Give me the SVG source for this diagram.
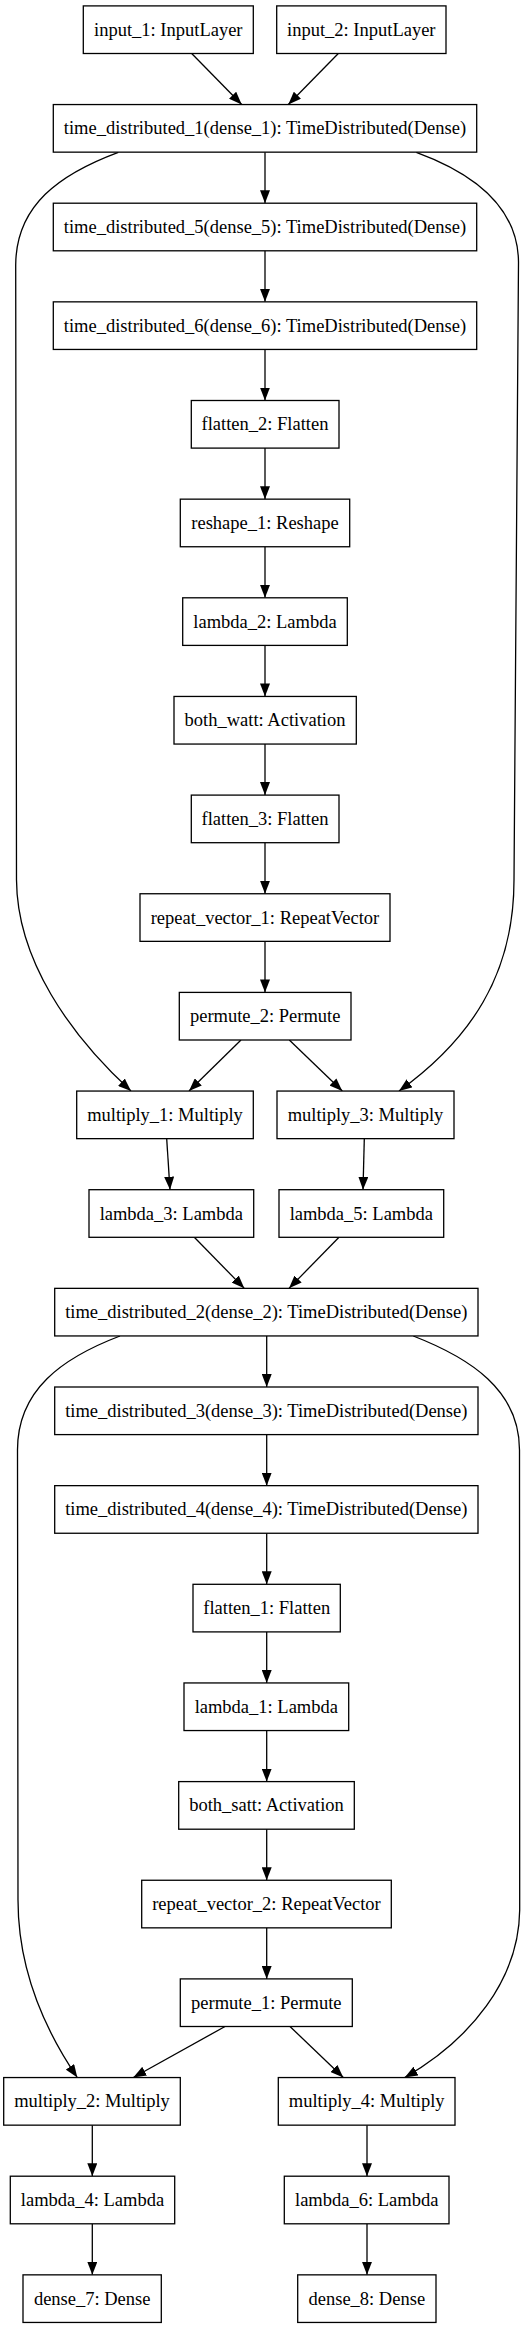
<svg xmlns="http://www.w3.org/2000/svg" width="528" height="2331" viewBox="0 0 528 2331">
<style>
rect{fill:#fff;stroke:#000;stroke-width:1.3}
text{font-family:"Liberation Serif","Times New Roman",serif;font-size:18.5px;text-anchor:middle;fill:#000}
.e path{fill:none;stroke:#000;stroke-width:1.3;marker-end:url(#ah)}
</style>
<defs>
<marker id="ah" viewBox="0 0 13 10" refX="13" refY="5" markerWidth="13" markerHeight="10" orient="auto" markerUnits="userSpaceOnUse"><path d="M0,0 L13,5 L0,10 z" fill="#000"/></marker>
</defs>
<rect x="0" y="0" width="528" height="2331" style="stroke:none"/>
<g class="e" id="edges">
<path d="M191.7,53.5 L241.7,104.5"/>
<path d="M338.3,53.5 L288.3,104.5"/>
<path d="M265,152.2 L265,203.2"/>
<path d="M265,250.8 L265,301.85"/>
<path d="M265,349.45 L265,400.5"/>
<path d="M265,448.1 L265,499.15"/>
<path d="M265,546.75 L265,597.8"/>
<path d="M265,645.4 L265,696.45"/>
<path d="M265,744.05 L265,795.1"/>
<path d="M265,842.7 L265,893.75"/>
<path d="M265,941.35 L265,992.4"/>
<path d="M241,1040 L189,1091"/>
<path d="M289.3,1040 L342.3,1091"/>
<path d="M118.3,152.3 C60,174 16,205 15.7,265 L16.5,880 C17,960 70,1035 131,1091"/>
<path d="M416.3,152.3 C470,172 518,205 518.5,262 L514,880 C514,975 470,1040 399,1091"/>
<path d="M166.7,1138.7 L170,1189.7"/>
<path d="M364.3,1138.7 L363,1189.7"/>
<path d="M194.3,1237.3 L244.3,1288.35"/>
<path d="M339,1237.3 L289,1288.35"/>
<path d="M266.7,1335.95 L266.7,1387"/>
<path d="M266.7,1434.6 L266.7,1485.65"/>
<path d="M266.7,1533.25 L266.7,1584.3"/>
<path d="M266.7,1631.9 L266.7,1682.95"/>
<path d="M266.7,1730.55 L266.7,1781.6"/>
<path d="M266.7,1829.2 L266.7,1880.25"/>
<path d="M266.7,1927.85 L266.7,1978.9"/>
<path d="M120,1336 C62,1358 17.5,1390 17.5,1450 L18,1900 C18,1970 45,2030 77.3,2077.5"/>
<path d="M413.3,1336 C470,1358 519.5,1390 519.5,1450 L519.7,1910 C519,1980 470,2040 404.7,2077.5"/>
<path d="M225,2026.5 L133.3,2077.5"/>
<path d="M290,2026.5 L343.3,2077.5"/>
<path d="M92.3,2125.15 L92.3,2176.2"/>
<path d="M92.3,2223.8 L92.3,2274.85"/>
<path d="M367,2125.15 L367,2176.2"/>
<path d="M367,2223.8 L367,2274.85"/>
</g>
<g id="input_1"><rect x="83.3" y="5.9" width="170" height="47.6"/><text x="168.3" y="35.7">input_1: InputLayer</text></g>
<g id="input_2"><rect x="276.7" y="5.9" width="169.3" height="47.6"/><text x="361.3" y="35.7">input_2: InputLayer</text></g>
<g id="time_distributed_1"><rect x="53.3" y="104.55" width="423.4" height="47.6"/><text x="265" y="134.35">time_distributed_1(dense_1): TimeDistributed(Dense)</text></g>
<g id="time_distributed_5"><rect x="53.3" y="203.2" width="423.4" height="47.6"/><text x="265" y="233">time_distributed_5(dense_5): TimeDistributed(Dense)</text></g>
<g id="time_distributed_6"><rect x="53.3" y="301.85" width="423.4" height="47.6"/><text x="265" y="331.65">time_distributed_6(dense_6): TimeDistributed(Dense)</text></g>
<g id="flatten_2"><rect x="191.3" y="400.5" width="147.7" height="47.6"/><text x="265" y="430.3">flatten_2: Flatten</text></g>
<g id="reshape_1"><rect x="180.3" y="499.15" width="169.4" height="47.6"/><text x="265" y="528.95">reshape_1: Reshape</text></g>
<g id="lambda_2"><rect x="182.7" y="597.8" width="164.6" height="47.6"/><text x="265" y="627.6">lambda_2: Lambda</text></g>
<g id="both_watt"><rect x="174" y="696.45" width="182.3" height="47.6"/><text x="265" y="726.25">both_watt: Activation</text></g>
<g id="flatten_3"><rect x="191.3" y="795.1" width="147.7" height="47.6"/><text x="265" y="824.9">flatten_3: Flatten</text></g>
<g id="repeat_vector_1"><rect x="140" y="893.75" width="250" height="47.6"/><text x="265" y="923.55">repeat_vector_1: RepeatVector</text></g>
<g id="permute_2"><rect x="179.3" y="992.4" width="171.7" height="47.6"/><text x="265.2" y="1022.2">permute_2: Permute</text></g>
<g id="multiply_1"><rect x="76.7" y="1091.05" width="176.6" height="47.6"/><text x="165" y="1120.85">multiply_1: Multiply</text></g>
<g id="multiply_3"><rect x="277" y="1091.05" width="177" height="47.6"/><text x="365.5" y="1120.85">multiply_3: Multiply</text></g>
<g id="lambda_3"><rect x="89" y="1189.7" width="164.7" height="47.6"/><text x="171.3" y="1219.5">lambda_3: Lambda</text></g>
<g id="lambda_5"><rect x="279" y="1189.7" width="164.7" height="47.6"/><text x="361.3" y="1219.5">lambda_5: Lambda</text></g>
<g id="time_distributed_2"><rect x="54.7" y="1288.35" width="423.3" height="47.6"/><text x="266.3" y="1318.15">time_distributed_2(dense_2): TimeDistributed(Dense)</text></g>
<g id="time_distributed_3"><rect x="54.7" y="1387" width="423.3" height="47.6"/><text x="266.3" y="1416.8">time_distributed_3(dense_3): TimeDistributed(Dense)</text></g>
<g id="time_distributed_4"><rect x="54.7" y="1485.65" width="423.3" height="47.6"/><text x="266.3" y="1515.45">time_distributed_4(dense_4): TimeDistributed(Dense)</text></g>
<g id="flatten_1"><rect x="193" y="1584.3" width="147.3" height="47.6"/><text x="266.7" y="1614.1">flatten_1: Flatten</text></g>
<g id="lambda_1"><rect x="184" y="1682.95" width="164.7" height="47.6"/><text x="266.3" y="1712.75">lambda_1: Lambda</text></g>
<g id="both_satt"><rect x="178.7" y="1781.6" width="175.6" height="47.6"/><text x="266.5" y="1811.4">both_satt: Activation</text></g>
<g id="repeat_vector_2"><rect x="141.7" y="1880.25" width="249.6" height="47.6"/><text x="266.5" y="1910.05">repeat_vector_2: RepeatVector</text></g>
<g id="permute_1"><rect x="180.3" y="1978.9" width="172" height="47.6"/><text x="266.3" y="2008.7">permute_1: Permute</text></g>
<g id="multiply_2"><rect x="3.7" y="2077.55" width="176.6" height="47.6"/><text x="92" y="2107.35">multiply_2: Multiply</text></g>
<g id="multiply_4"><rect x="278.3" y="2077.55" width="176.7" height="47.6"/><text x="366.7" y="2107.35">multiply_4: Multiply</text></g>
<g id="lambda_4"><rect x="10.3" y="2176.2" width="164.4" height="47.6"/><text x="92.5" y="2206">lambda_4: Lambda</text></g>
<g id="lambda_6"><rect x="284.3" y="2176.2" width="164.7" height="47.6"/><text x="366.7" y="2206">lambda_6: Lambda</text></g>
<g id="dense_7"><rect x="23" y="2274.85" width="138.3" height="47.6"/><text x="92.2" y="2304.65">dense_7: Dense</text></g>
<g id="dense_8"><rect x="297.7" y="2274.85" width="138.3" height="47.6"/><text x="366.8" y="2304.65">dense_8: Dense</text></g>
</svg>
